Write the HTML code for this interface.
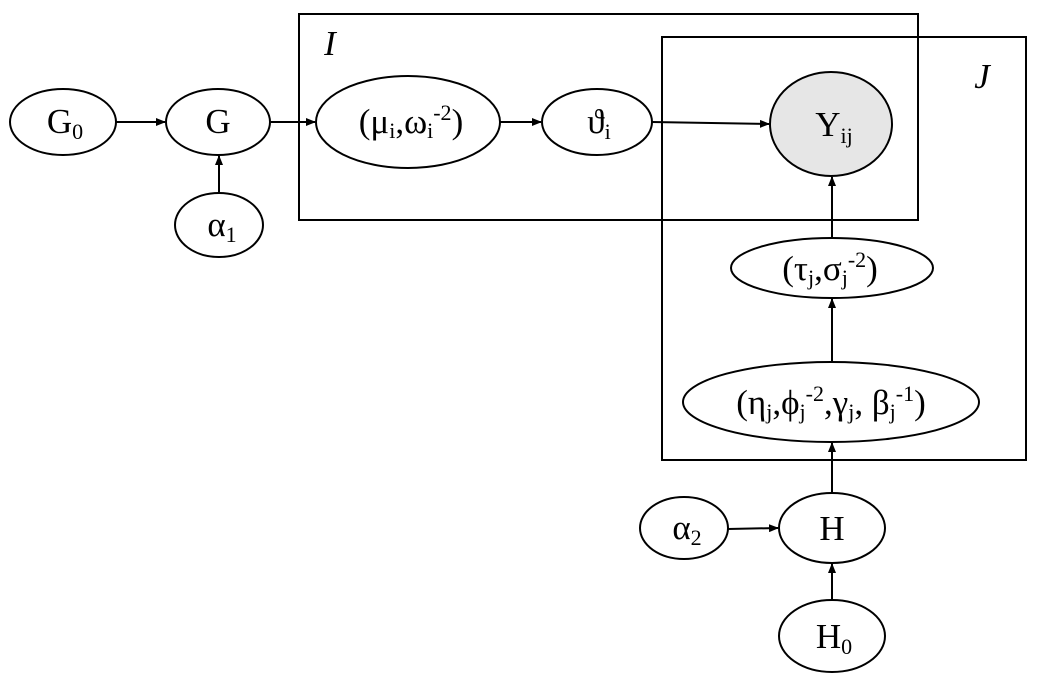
<!DOCTYPE html>
<html><head><meta charset="utf-8"><style>
html,body{margin:0;padding:0;background:#fff;}
svg{display:block;}
text{font-family:"Liberation Serif",serif;font-size:35px;fill:#000;text-anchor:middle;}
.s{font-size:22px;}
</style></head><body>
<svg width="1048" height="677" viewBox="0 0 1048 677" xmlns="http://www.w3.org/2000/svg">
<defs><marker id="a" markerWidth="10" markerHeight="8" refX="9" refY="4" orient="auto" markerUnits="userSpaceOnUse"><path d="M0,0 L10,4 L0,8 z" fill="#000"/></marker></defs>
<g fill="none" stroke="#000" stroke-width="2">
<rect x="299" y="14" width="619" height="206"/>
<rect x="662" y="37" width="364" height="423"/>
<ellipse cx="63" cy="122" rx="53" ry="33"/>
<ellipse cx="218" cy="122" rx="52" ry="33"/>
<ellipse cx="219" cy="225" rx="44" ry="32"/>
<ellipse cx="408" cy="122" rx="92" ry="46"/>
<ellipse cx="597" cy="122" rx="55" ry="33"/>
<ellipse cx="831" cy="124" rx="61" ry="52" fill="#e6e6e6"/>
<ellipse cx="832" cy="268" rx="101" ry="30"/>
<ellipse cx="831" cy="402" rx="148" ry="40"/>
<ellipse cx="832" cy="528" rx="53" ry="35"/>
<ellipse cx="684" cy="528" rx="44" ry="31"/>
<ellipse cx="832" cy="636" rx="53" ry="36"/>
<g marker-end="url(#a)">
<line x1="116" y1="122" x2="165" y2="122"/>
<line x1="271" y1="122" x2="315" y2="122"/>
<line x1="219" y1="193" x2="219" y2="156"/>
<line x1="500" y1="122" x2="541" y2="122"/>
<line x1="652" y1="122" x2="769" y2="124"/>
<line x1="832" y1="238" x2="832" y2="177"/>
<line x1="832" y1="362" x2="832" y2="299"/>
<line x1="832" y1="493" x2="832" y2="443"/>
<line x1="728" y1="529" x2="778" y2="528"/>
<line x1="832" y1="600" x2="832" y2="564"/>
</g></g>
<text x="330" y="55" font-style="italic">I</text>
<text x="982" y="88" font-style="italic">J</text>
<text x="65" y="133">G<tspan class="s" dy="6">0</tspan></text>
<text x="218" y="133">G</text>
<text x="222" y="236">α<tspan class="s" dy="6">1</tspan></text>
<text x="411" y="133">(μ<tspan class="s" dy="5">i</tspan><tspan dy="-5">,ω</tspan><tspan class="s" dy="5">i</tspan><tspan class="s" dy="-18">-2</tspan><tspan dy="13">)</tspan></text>
<text x="599" y="133">ϑ<tspan class="s" dy="6">i</tspan></text>
<text x="834" y="136">Y<tspan class="s" dy="7">ij</tspan></text>
<text x="830" y="280">(τ<tspan class="s" dy="5">j</tspan><tspan dy="-5">,σ</tspan><tspan class="s" dy="5">j</tspan><tspan class="s" dy="-18">-2</tspan><tspan dy="13">)</tspan></text>
<text x="831" y="414">(η<tspan class="s" dy="5">j</tspan><tspan dy="-5">,ϕ</tspan><tspan class="s" dy="5">j</tspan><tspan class="s" dy="-18">-2</tspan><tspan dy="13">,γ</tspan><tspan class="s" dy="5">j</tspan><tspan dy="-5">, β</tspan><tspan class="s" dy="5">j</tspan><tspan class="s" dy="-18">-1</tspan><tspan dy="13">)</tspan></text>
<text x="832" y="540">H</text>
<text x="687" y="539">α<tspan class="s" dy="6">2</tspan></text>
<text x="834" y="648">H<tspan class="s" dy="6">0</tspan></text>
</svg>
</body></html>
